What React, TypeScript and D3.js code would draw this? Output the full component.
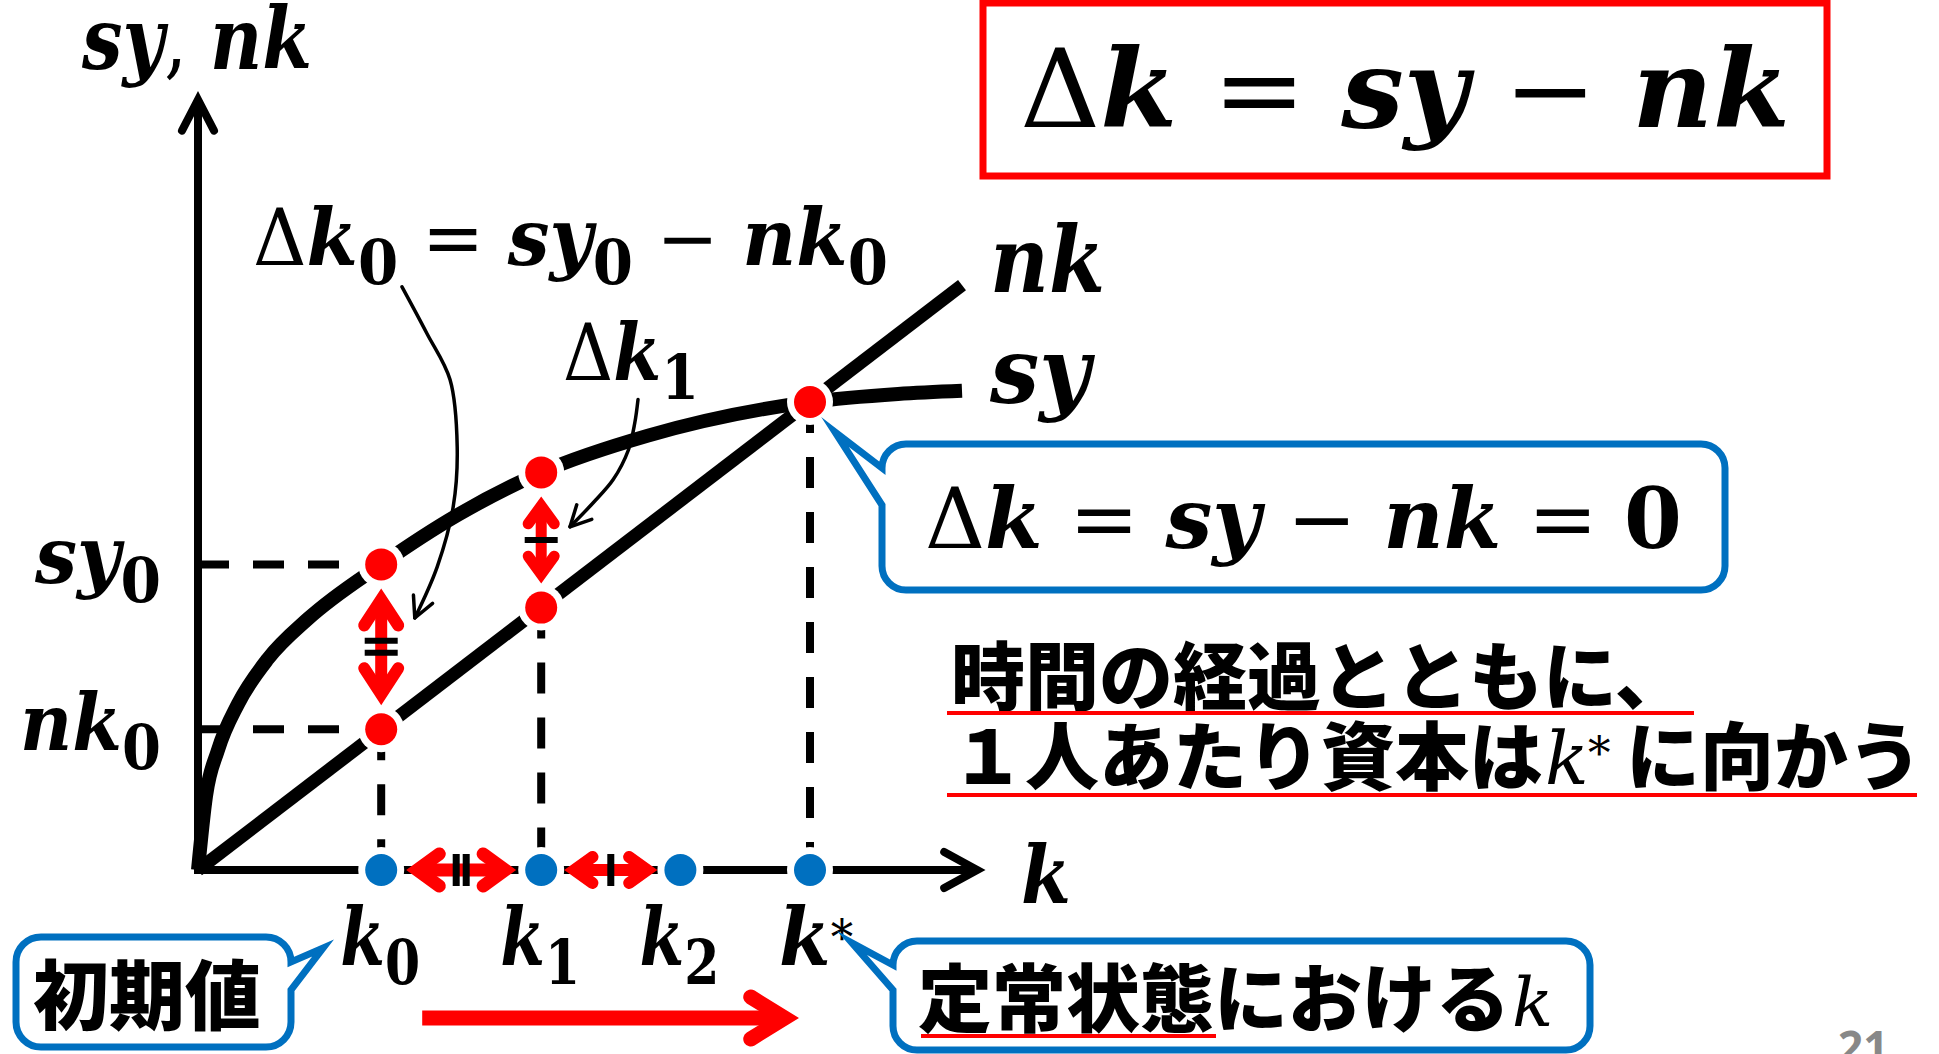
import React from 'react';
import * as d3 from 'd3';

const W = 1939;
const H = 1054;

// ---- data (model units) ----
const kNames = ['0', '1', '2', '*'];
const kValues = [2.29, 4.29, 6.03, 7.65];
const syAtK = [3.82, 4.97, 5.85]; // sy at k0, k1, k*
const nkAtK = [1.76, 3.28, 5.85]; // nk at k0, k1, k*
const syCurveK = [0, 0.1, 0.25, 0.5, 0.875, 1.375, 2.29, 3.25, 4.29, 5.625, 7.65, 8.75, 9.55];
const syCurveV = [0, 0.925, 1.5, 2.075, 2.64, 3.14, 3.82, 4.44, 4.97, 5.43, 5.85, 5.95, 5.99];
const nkLineK = [0, 9.55];
const nkLineV = [0, 7.31];
const axisEnd = [9.74, 9.63];
const leader0K = [2.55, 2.86, 3.15, 3.24, 3.19, 2.99, 2.71];
const leader0V = [7.29, 6.71, 6.13, 5.29, 4.54, 3.79, 3.15];
const leader1K = [5.5, 5.46, 5.38, 5.19, 4.94, 4.65];
const leader1V = [5.88, 5.59, 5.25, 4.88, 4.59, 4.29];

const x = d3.scaleLinear().domain([0, 10]).range([198, 998]);
const y = d3.scaleLinear().domain([0, 10]).range([870, 70]);

const RED = '#FF0000';
const BLUE = '#0070C0';
const MATH = "'DejaVu Serif', serif";
const JP = "'Noto Sans CJK JP', 'Noto Sans CJK SC', sans-serif";

type Part = { t: string; it?: boolean; sub?: boolean; sup?: boolean; b?: boolean };
const bi = (t: string): Part => ({ t, it: true });
const r = (t: string): Part => ({ t });
const rb = (t: string): Part => ({ t, b: true });
const sub = (t: string): Part => ({ t, sub: true, b: true });
const sup = (t: string): Part => ({ t, sup: true });

function MathLabel(props: { x: number; y: number; size: number; width: number; anchor?: string; parts: Part[] }) {
  const { size } = props;
  let shift = 0;
  return (
    <text
      x={props.x}
      y={props.y}
      fontSize={size}
      textAnchor={props.anchor || 'start'}
      textLength={props.width}
      lengthAdjust="spacingAndGlyphs"
      fontFamily={MATH}
      fill="#000"
      style={{ whiteSpace: 'pre' }}
    >
      {props.parts.map((p, i) => {
        const target = p.sub ? size * 0.24 : p.sup ? -size * 0.14 : 0;
        const dy = target - shift;
        shift = target;
        return (
          <tspan
            key={i}
            dy={dy}
            fontStyle={p.it ? 'italic' : 'normal'}
            fontWeight={p.it || p.b ? 'bold' : 'normal'}
            fontSize={p.sub ? size * 0.78 : p.sup ? size * 0.6 : size}
          >
            {p.t}
          </tspan>
        );
      })}
    </text>
  );
}

function chevron(tx: number, ty: number, ux: number, uy: number, hl: number, hw: number) {
  const nx = -uy;
  const ny = ux;
  const bx = tx - ux * hl;
  const by = ty - uy * hl;
  return `M${bx + nx * hw},${by + ny * hw}L${tx},${ty}L${bx - nx * hw},${by - ny * hw}`;
}

function RedArrow(props: { ax: number; ay: number; bx: number; by: number; both?: boolean; w: number; hl: number; hw: number }) {
  const { ax, ay, bx, by, w, hl, hw } = props;
  const len = Math.hypot(bx - ax, by - ay);
  const ux = (bx - ax) / len;
  const uy = (by - ay) / len;
  const inset = w / 2 / Math.sin(Math.atan2(hw, hl));
  const tbx = bx - ux * inset;
  const tby = by - uy * inset;
  const tax = props.both ? ax + ux * inset : ax;
  const tay = props.both ? ay + uy * inset : ay;
  return (
    <g stroke={RED} strokeWidth={w} fill="none">
      <line x1={tax} y1={tay} x2={tbx} y2={tby} />
      <path d={chevron(tbx, tby, ux, uy, hl, hw)} strokeLinecap="round" strokeLinejoin="miter" strokeMiterlimit={10} />
      {props.both && (
        <path d={chevron(tax, tay, -ux, -uy, hl, hw)} strokeLinecap="round" strokeLinejoin="miter" strokeMiterlimit={10} />
      )}
    </g>
  );
}

function callout(x0: number, y0: number, x1: number, y1: number, rr: number, side: 'left' | 'right', a: number, b: number, tx: number, ty: number) {
  if (side === 'left') {
    return `M${x0 + rr},${y0}H${x1 - rr}A${rr},${rr} 0 0 1 ${x1},${y0 + rr}V${y1 - rr}A${rr},${rr} 0 0 1 ${x1 - rr},${y1}H${x0 + rr}A${rr},${rr} 0 0 1 ${x0},${y1 - rr}V${b}L${tx},${ty}L${x0},${a}V${y0 + rr}A${rr},${rr} 0 0 1 ${x0 + rr},${y0}Z`;
  }
  return `M${x0 + rr},${y0}H${x1 - rr}A${rr},${rr} 0 0 1 ${x1},${y0 + rr}V${a}L${tx},${ty}L${x1},${b}V${y1 - rr}A${rr},${rr} 0 0 1 ${x1 - rr},${y1}H${x0 + rr}A${rr},${rr} 0 0 1 ${x0},${y1 - rr}V${y0 + rr}A${rr},${rr} 0 0 1 ${x0 + rr},${y0}Z`;
}

function leaderHead(pts: [number, number][]) {
  const [tx, ty] = pts[pts.length - 1];
  const [px, py] = pts[pts.length - 2];
  const l = Math.hypot(px - tx, py - ty);
  const bx = (px - tx) / l;
  const by = (py - ty) / l;
  const a = (27 * Math.PI) / 180;
  const L = 23;
  const rot = (s: number) => [
    tx + L * (bx * Math.cos(s * a) - by * Math.sin(s * a)),
    ty + L * (bx * Math.sin(s * a) + by * Math.cos(s * a)),
  ];
  const w1 = rot(1);
  const w2 = rot(-1);
  return `M${w1[0]},${w1[1]}L${tx},${ty}L${w2[0]},${w2[1]}`;
}

export default function App() {
  const curveLine = d3
    .line<[number, number]>()
    .x((d) => x(d[0]))
    .y((d) => y(d[1]))
    .curve(d3.curveMonotoneX);
  const smooth = d3
    .line<[number, number]>()
    .x((d) => x(d[0]))
    .y((d) => y(d[1]))
    .curve(d3.curveCatmullRom.alpha(0.5));
  const straight = d3
    .line<[number, number]>()
    .x((d) => x(d[0]))
    .y((d) => y(d[1]));

  const syPts: [number, number][] = syCurveK.map((k, i) => [k, syCurveV[i]]);
  const nkPts: [number, number][] = nkLineK.map((k, i) => [k, nkLineV[i]]);
  const lead0: [number, number][] = leader0K.map((k, i) => [k, leader0V[i]]);
  const lead1: [number, number][] = leader1K.map((k, i) => [k, leader1V[i]]);
  const lead0px: [number, number][] = lead0.map((d) => [x(d[0]), y(d[1])]);
  const lead1px: [number, number][] = lead1.map((d) => [x(d[0]), y(d[1])]);

  const redDots: [number, number][] = [
    [kValues[0], syAtK[0]],
    [kValues[0], nkAtK[0]],
    [kValues[1], syAtK[1]],
    [kValues[1], nkAtK[1]],
    [kValues[3], syAtK[2]],
  ];
  const vDashTops = [nkAtK[0], nkAtK[1], null, syAtK[2]];

  const X0 = x(0);
  const Y0 = y(0);
  const xk = kValues.map((k) => x(k));

  const v0a = y(syAtK[0]) + 24;
  const v0b = y(nkAtK[0]) - 24;
  const v1a = y(syAtK[1]) + 24;
  const v1b = y(nkAtK[1]) - 24;
  const h0a = xk[0] + 25;
  const h0b = xk[1] - 25;
  const h1a = xk[1] + 23;
  const h1b = xk[2] - 23;

  return (
    <svg
      width={W}
      height={H}
      viewBox={`0 0 ${W} ${H}`}
      style={{ position: 'fixed', left: 0, top: 0, display: 'block', background: '#fff' }}
    >
      <rect x={0} y={0} width={W} height={H} fill="#fff" />

      {/* dashed guides */}
      <g stroke="#000" strokeWidth={8} strokeDasharray="31 24" fill="none">
        <line x1={X0} y1={y(syAtK[0])} x2={xk[0]} y2={y(syAtK[0])} />
        <line x1={X0} y1={y(nkAtK[0])} x2={xk[0]} y2={y(nkAtK[0])} />
        {vDashTops.map((v, i) =>
          v === null ? null : <line key={i} x1={xk[i]} y1={y(v)} x2={xk[i]} y2={Y0} />
        )}
      </g>

      {/* axes */}
      <path
        d={`M${X0},${y(axisEnd[1])}V${Y0}H${x(axisEnd[0])}`}
        stroke="#000"
        strokeWidth={8}
        fill="none"
        strokeLinejoin="miter"
      />
      <path
        d={chevron(X0, y(axisEnd[1]), 0, -1, 31, 16)}
        stroke="#000"
        strokeWidth={8}
        fill="none"
        strokeLinecap="round"
        strokeLinejoin="miter"
      />
      <path
        d={chevron(x(axisEnd[0]), Y0, 1, 0, 33, 18)}
        stroke="#000"
        strokeWidth={8}
        fill="none"
        strokeLinecap="round"
        strokeLinejoin="miter"
      />

      {/* curves */}
      <path d={curveLine(syPts) || ''} stroke="#000" strokeWidth={14} fill="none" />
      <path d={straight(nkPts) || ''} stroke="#000" strokeWidth={13} fill="none" />

      {/* leaders */}
      <g stroke="#000" strokeWidth={3.5} fill="none" strokeLinecap="round" strokeLinejoin="round">
        <path d={smooth(lead0) || ''} />
        <path d={leaderHead(lead0px)} />
        <path d={smooth(lead1) || ''} />
        <path d={leaderHead(lead1px)} />
      </g>

      {/* dots */}
      {redDots.map((d, i) => (
        <g key={'r' + i}>
          <circle cx={x(d[0])} cy={y(d[1])} r={23} fill="#fff" />
          <circle cx={x(d[0])} cy={y(d[1])} r={16} fill={RED} />
        </g>
      ))}
      {xk.map((px, i) => (
        <g key={'b' + i}>
          <circle cx={px} cy={Y0} r={23} fill="#fff" />
          <circle cx={px} cy={Y0} r={16} fill={BLUE} />
        </g>
      ))}

      {/* red arrows */}
      <RedArrow ax={xk[0]} ay={v0a} bx={xk[0]} by={v0b} both w={12} hl={26} hw={17} />
      <RedArrow ax={xk[1]} ay={v1a} bx={xk[1]} by={v1b} both w={11} hl={18} hw={13} />
      <RedArrow ax={h0a} ay={Y0} bx={h0b} by={Y0} both w={13} hl={22} hw={16} />
      <RedArrow ax={h1a} ay={Y0} bx={h1b} by={Y0} both w={12} hl={18} hw={13} />
      <RedArrow ax={xk[0] + 41} ay={1018} bx={xk[3] - 11} by={1018} w={15} hl={34} hw={21} />

      {/* equality marks */}
      <g stroke="#000" strokeWidth={6}>
        <line x1={xk[0] - 16.5} x2={xk[0] + 16.5} y1={(v0a + v0b) / 2 - 6} y2={(v0a + v0b) / 2 - 6} />
        <line x1={xk[0] - 16.5} x2={xk[0] + 16.5} y1={(v0a + v0b) / 2 + 6} y2={(v0a + v0b) / 2 + 6} />
        <line x1={xk[1] - 16.5} x2={xk[1] + 16.5} y1={(v1a + v1b) / 2} y2={(v1a + v1b) / 2} />
      </g>
      <g stroke="#000" strokeWidth={7}>
        <line x1={(h0a + h0b) / 2 - 5} x2={(h0a + h0b) / 2 - 5} y1={Y0 - 16} y2={Y0 + 16} />
        <line x1={(h0a + h0b) / 2 + 5} x2={(h0a + h0b) / 2 + 5} y1={Y0 - 16} y2={Y0 + 16} />
        <line x1={(h1a + h1b) / 2} x2={(h1a + h1b) / 2} y1={Y0 - 16} y2={Y0 + 16} />
      </g>

      {/* math labels */}
      <MathLabel x={82} y={69} size={86} width={230} parts={[bi('sy'), r(', '), bi('nk')]} />
      <MathLabel x={161} y={y(syAtK[0]) + 19} size={78} width={126} anchor="end" parts={[bi('sy'), sub('0')]} />
      <MathLabel x={161} y={y(nkAtK[0]) + 21} size={78} width={141} anchor="end" parts={[bi('nk'), sub('0')]} />
      <MathLabel
        x={253}
        y={265}
        size={78}
        width={635}
        parts={[r('Δ'), bi('k'), sub('0'), r(' = '), bi('sy'), sub('0'), r(' − '), bi('nk'), sub('0')]}
      />
      <MathLabel x={563} y={380} size={78} width={136} parts={[r('Δ'), bi('k'), sub('1')]} />
      <MathLabel x={990} y={292} size={92} width={115} parts={[bi('nk')]} />
      <MathLabel x={990} y={403} size={92} width={100} parts={[bi('sy')]} />
      <MathLabel x={1021} y={903} size={80} width={50} parts={[bi('k')]} />
      {kNames.map((n, i) => (
        <MathLabel
          key={'k' + i}
          x={n === '*' ? xk[i] - 31 : xk[i] - 41}
          y={965}
          size={80}
          width={n === '*' ? 74 : 80}
          parts={[bi('k'), n === '*' ? sup(n) : sub(n)]}
        />
      ))}

      {/* red formula box */}
      <rect x={983} y={3} width={844} height={173} fill="none" stroke={RED} strokeWidth={7} />
      <MathLabel
        x={1020}
        y={127}
        size={108}
        width={770}
        parts={[r('Δ'), bi('k'), r(' = '), bi('sy'), r(' − '), bi('nk')]}
      />

      {/* blue callout: steady state */}
      <path
        d={callout(882, 444, 1725, 590, 24, 'left', 468, 505, 835, 432)}
        fill="#fff"
        stroke={BLUE}
        strokeWidth={7}
        strokeLinejoin="miter"
        strokeMiterlimit={12}
      />
      <MathLabel
        x={925}
        y={548}
        size={84}
        width={757}
        parts={[r('Δ'), bi('k'), r(' = '), bi('sy'), r(' − '), bi('nk'), r(' = '), rb('0')]}
      />

      {/* Japanese explanation */}
      <text x={951} y={704} fontSize={74} fontFamily={JP} fontWeight={900} fill="#000">
        時間の経過とともに、
      </text>
      <line x1={947} x2={1694} y1={713} y2={713} stroke={RED} strokeWidth={4} />
      <text y={784} fontSize={74} fontFamily={JP} fontWeight={900} fill="#000">
        <tspan x={951}>１人あたり資本は</tspan>
        <tspan x={1545} fontFamily={MATH} fontStyle="italic" fontWeight="normal" fontSize={72}>
          k
        </tspan>
        <tspan x={1588} dy={-15} fontFamily={MATH} fontWeight="normal" fontSize={45}>
          *
        </tspan>
        <tspan x={1626} dy={15}>
          に向かう
        </tspan>
      </text>
      <line x1={947} x2={1917} y1={795} y2={795} stroke={RED} strokeWidth={4} />

      {/* callout: initial value */}
      <path
        d={callout(16, 937, 291, 1047, 25, 'right', 962, 990, 323, 948)}
        fill="#fff"
        stroke={BLUE}
        strokeWidth={7}
        strokeLinejoin="miter"
        strokeMiterlimit={12}
      />
      <text x={33} y={1024} fontSize={76} fontFamily={JP} fontWeight={900} fill="#000">
        初期値
      </text>

      {/* callout: steady-state k */}
      <path
        d={callout(893, 941, 1590, 1050, 24, 'left', 965, 990, 852, 943)}
        fill="#fff"
        stroke={BLUE}
        strokeWidth={7}
        strokeLinejoin="miter"
        strokeMiterlimit={12}
      />
      <text y={1026} fontSize={74} fontFamily={JP} fontWeight={900} fill="#000">
        <tspan x={918}>定常状態における</tspan>
        <tspan x={1512} fontFamily={MATH} fontStyle="italic" fontWeight="normal" fontSize={68}>
          k
        </tspan>
      </text>
      <line x1={921} x2={1216} y1={1036} y2={1036} stroke={RED} strokeWidth={4} />

      {/* page number */}
      <text x={1838} y={1063} fontSize={44} fontFamily="'Noto Sans', sans-serif" fontWeight={700} fill="#888">
        21
      </text>
    </svg>
  );
}
